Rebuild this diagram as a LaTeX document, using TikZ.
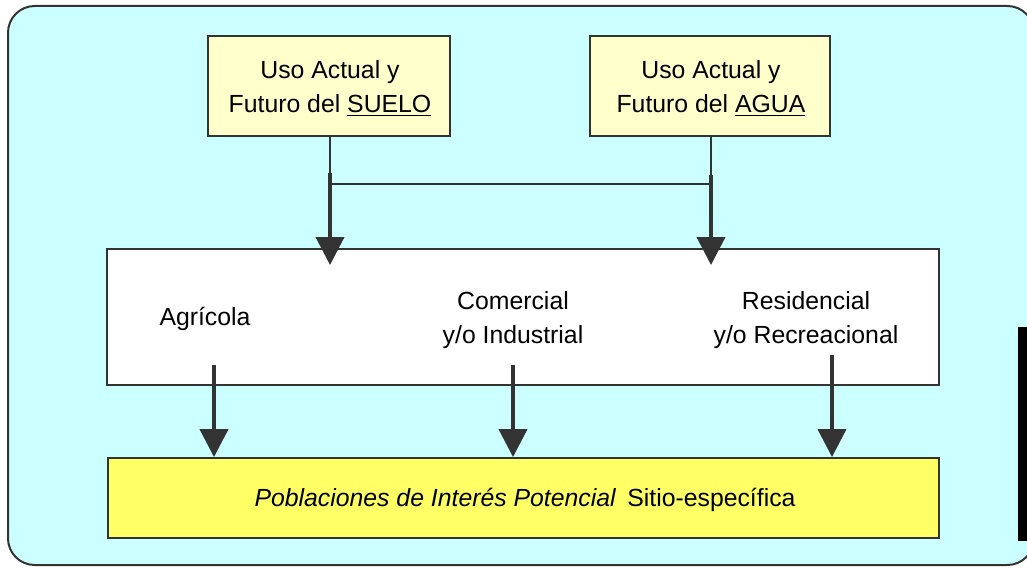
\documentclass[tikz,border=0pt]{standalone}
\usepackage{fontspec}
\setmainfont{Liberation Sans}
\usetikzlibrary{arrows.meta}
\definecolor{bgcyan}{HTML}{CCFFFF}
\definecolor{paleyellow}{HTML}{FFFFCC}
\definecolor{brightyellow}{HTML}{FFFF66}
\definecolor{linegray}{HTML}{333333}
\tikzset{
  boxframe/.style={draw=linegray, line width=1.4pt, inner sep=0pt},
  lbl/.style={align=center, inner sep=0pt, font=\fontsize{18.6pt}{26pt}\selectfont},
  thinline/.style={draw=linegray, line width=1.1pt},
  joinline/.style={draw=linegray, line width=1.8pt},
  bigarrow/.style={draw=linegray, line width=3pt, -{Triangle[width=21pt,length=21pt,fill=linegray]}},
}
\begin{document}
\begin{tikzpicture}[x=0.75pt,y=-0.75pt]
\useasboundingbox (0,0) rectangle (1027,567);
\begin{scope}
\clip (0,0) rectangle (1027,567);
\draw[fill=bgcyan, draw=linegray, line width=1.5pt, rounded corners=20pt] (8,6) rectangle (1034,565);
\end{scope}
\fill[black] (1018,327) rectangle (1027,541);

% top boxes
\node[boxframe, fill=paleyellow, minimum width=181.5pt, minimum height=75pt] (suelo) at (329,86) {};
\node[lbl] (suelotxt) at (330,88) {Uso Actual y\\Futuro del \underline{SUELO}};
\node[boxframe, fill=paleyellow, minimum width=180pt, minimum height=75pt] (agua) at (710,86) {};
\node[lbl] (aguatxt) at (711,88) {Uso Actual y\\Futuro del \underline{AGUA}};

% middle box
\node[boxframe, fill=white, minimum width=624pt, minimum height=102pt] (mid) at (523,317) {};
\node[lbl] (agri) at (205,319) {Agrícola};
\node[lbl] (comer) at (513,320) {Comercial\\y/o Industrial};
\node[lbl] (resid) at (806,320) {Residencial\\y/o Recreacional};

% bottom box
\node[boxframe, fill=brightyellow, minimum width=623.25pt, minimum height=60pt] (pob) at (523.5,498) {};
\node[lbl] (pobtxt) at (525,500) {\textit{Poblaciones de Interés Potencial}\, Sitio-específica};

% connectors from the top boxes
\coordinate (sj) at (330,173);
\coordinate (sh) at (330,184);
\coordinate (st) at (330,265);
\coordinate (aj) at (711,175);
\coordinate (ah) at (711,184);
\coordinate (at) at (711,265);
\draw[thinline] (suelo.south -| sj) -- (sj);
\draw[thinline] (agua.south -| aj) -- (aj);
\draw[joinline] (sh) -- (ah);
\draw[bigarrow] (sj) -- (st);
\draw[bigarrow] (aj) -- (at);

% arrows to the bottom box
\coordinate (a1) at (214,365);
\coordinate (a2) at (513,365);
\coordinate (a3) at (832,355);
\draw[bigarrow] (a1) -- (pob.north -| a1);
\draw[bigarrow] (a2) -- (pob.north -| a2);
\draw[bigarrow] (a3) -- (pob.north -| a3);
\end{tikzpicture}
\end{document}
